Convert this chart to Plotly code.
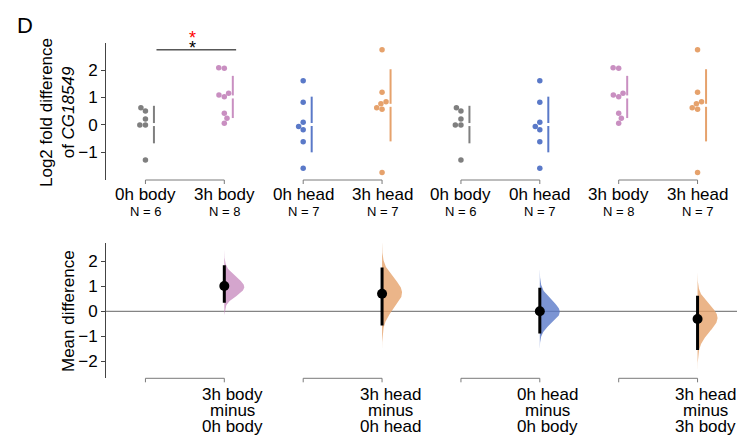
import numpy as np
import plotly.graph_objects as go

# ---------------- data ----------------
body_0h = [0.63, 0.51, 0.22, 0.0, 0.0, -1.28]
body_3h = [2.09, 2.07, 1.16, 1.09, 1.03, 0.43, 0.24, 0.06]
head_0h = [1.61, 0.83, 0.10, -0.06, -0.18, -0.61, -1.58]
head_3h = [2.74, 1.19, 0.85, 0.77, 0.63, 0.57, -1.74]

group_names = ["0h body", "3h body", "0h head", "3h head",
               "0h body", "0h head", "3h body", "3h head"]
group_values = {"0h body": body_0h, "3h body": body_3h,
                "0h head": head_0h, "3h head": head_3h}

# comparisons: (test index, control index) in the top panel
comparisons = [(1, 0), (3, 2), (5, 4), (7, 6)]
ci_low = [0.34, -0.57, -0.88, -1.54]
ci_high = [1.84, 1.75, 0.94, 0.62]

top_yticks = [-1, 0, 1, 2]
bot_yticks = [-2, -1, 0, 1, 2]

# ---------------- styling ----------------
colors = {"0h body": "#7f7f7f", "3h body": "#c98fc1",
          "0h head": "#5a79c8", "3h head": "#e6a26c"}
FONT = "Liberation Sans, Arial, sans-serif"
W, H = 737, 436
ML, MR = 106, 0
plot_w = W - ML - MR
x_range = [-0.5, 7.5]
px_per_x = plot_w / (x_range[1] - x_range[0])

top_dom = [1 - 180 / H, 1 - 43 / H]
top_range = [-2.01, 2.99]
bot_dom = [1 - 378.3 / H, 1 - 243.3 / H]
bot_range = [-2.67, 2.71]
top_h_px = (top_dom[1] - top_dom[0]) * H
bot_h_px = (bot_dom[1] - bot_dom[0]) * H
px_per_y_top = top_h_px / (top_range[1] - top_range[0])


def swarm_offsets(vals, d_px):
    """seaborn-like beeswarm offsets (in x data units)."""
    ys = np.asarray(vals, float) * px_per_y_top
    order = np.argsort(ys)
    placed = []
    offs = np.zeros(len(ys))
    for i in order:
        y = ys[i]
        cands = [0.0]
        for (px, py) in placed:
            dy = abs(py - y)
            if dy < d_px:
                dx = np.sqrt(d_px ** 2 - dy ** 2)
                cands += [px - dx, px + dx]
        cands = sorted(set(np.round(cands, 6)), key=lambda c: (abs(c), c))
        for c in cands:
            ok = all((c - px) ** 2 + (y - py) ** 2 >= d_px ** 2 - 1e-6
                     for (px, py) in placed)
            if ok:
                break
        placed.append((c, y))
        offs[i] = c / px_per_x
    return offs


def boot_mean_dist(vals, h):
    v = np.asarray(vals, float)
    n = len(v)
    idx = np.round(v / n / h).astype(int)
    mn = idx.min()
    span = idx.max() - mn
    cur = np.array([1.0])
    off = 0
    for _ in range(n):
        new = np.zeros(len(cur) + span)
        for k in idx:
            s = k - mn
            new[s:s + len(cur)] += cur / n
        cur = new
        off += mn
    return cur, off


def diff_density(test, control, h=0.002):
    pt, ot = boot_mean_dist(test, h)
    pc, oc = boot_mean_dist(control, h)
    p = np.convolve(pt, pc[::-1])
    off = ot - (oc + len(pc) - 1)
    grid = (off + np.arange(len(p))) * h
    m = np.sum(p * grid)
    sd = np.sqrt(np.sum(p * grid ** 2) - m ** 2)
    bw = sd * 5000 ** (-0.2)
    sig = bw / h
    half = int(np.ceil(4.5 * sig))
    kx = np.arange(-half, half + 1)
    ker = np.exp(-0.5 * (kx / sig) ** 2)
    ker /= ker.sum()
    ps = np.convolve(p, ker)
    grid_s = (off - half + np.arange(len(ps))) * h
    cdf = np.cumsum(ps) / ps.sum()
    lo = np.searchsorted(cdf, 0.0001)
    hi = np.searchsorted(cdf, 0.9999)
    return grid_s[lo:hi + 1], ps[lo:hi + 1]


def hex_rgba(hx, a):
    hx = hx.lstrip("#")
    r, g, b = int(hx[0:2], 16), int(hx[2:4], 16), int(hx[4:6], 16)
    return f"rgba({r},{g},{b},{a})"


fig = go.Figure()

# ---------------- top panel: swarms + mean ± SD ----------------
sd_offset = 8.5 / px_per_x
gap = 3.0 / px_per_y_top
for gi, name in enumerate(group_names):
    vals = np.asarray(group_values[name], float)
    offs = swarm_offsets(vals, 5.6)
    fig.add_trace(go.Scatter(
        x=gi + offs, y=vals, mode="markers", xaxis="x", yaxis="y",
        marker=dict(size=5.5, color=colors[name], line=dict(width=0)),
        showlegend=False, hoverinfo="skip"))
    m = vals.mean()
    s = vals.std(ddof=1)
    xl = gi + sd_offset
    fig.add_trace(go.Scatter(
        x=[xl, xl, None, xl, xl],
        y=[m - s, m - gap / 2, None, m + gap / 2, m + s],
        mode="lines", xaxis="x", yaxis="y",
        line=dict(color=colors[name], width=2),
        showlegend=False, hoverinfo="skip"))

# ---------------- bottom panel: effect sizes ----------------
violin_w = 20.0 / px_per_x
for k, (ti, ci) in enumerate(comparisons):
    tname, cname = group_names[ti], group_names[ci]
    test = np.asarray(group_values[tname], float)
    ctrl = np.asarray(group_values[cname], float)
    grid, dens = diff_density(test, ctrl)
    step = 4
    g = grid[::step]
    dd = dens[::step] / dens.max()
    xs = np.concatenate([[ti], ti + dd * violin_w, [ti]])
    ys = np.concatenate([[g[0]], g, [g[-1]]])
    fig.add_trace(go.Scatter(
        x=xs, y=ys, mode="lines", fill="toself", xaxis="x2", yaxis="y2",
        fillcolor=hex_rgba(colors[tname], 0.8), line=dict(width=0),
        showlegend=False, hoverinfo="skip"))
    md = test.mean() - ctrl.mean()
    fig.add_trace(go.Scatter(
        x=[ti, ti], y=[ci_low[k], ci_high[k]], mode="lines",
        xaxis="x2", yaxis="y2", line=dict(color="black", width=3),
        showlegend=False, hoverinfo="skip"))
    fig.add_trace(go.Scatter(
        x=[ti], y=[md], mode="markers", xaxis="x2", yaxis="y2",
        marker=dict(size=10, color="black"),
        showlegend=False, hoverinfo="skip"))

shapes = []
annotations = []
bracket_col = "#7a7a7a"
for (a, b) in [(0, 1), (2, 3), (4, 5), (6, 7)]:
    for xr, yr, hpx in [("x", "y domain", top_h_px), ("x2", "y2 domain", bot_h_px)]:
        shapes.append(dict(type="line", xref=xr, yref=yr, x0=a, x1=b, y0=0, y1=0,
                           line=dict(color=bracket_col, width=1)))
        for xx in (a, b):
            shapes.append(dict(type="line", xref=xr, yref=yr, x0=xx, x1=xx,
                               y0=0, y1=-4 / hpx,
                               line=dict(color=bracket_col, width=1)))

shapes.append(dict(type="line", xref="paper", yref="y2", x0=0, x1=1, y0=0, y1=0,
                   line=dict(color="#666666", width=1), layer="below"))

# significance bar and stars
shapes.append(dict(type="line", xref="x", yref="y", x0=0.14, x1=1.15, y0=2.74, y1=2.74,
                   line=dict(color="black", width=1)))
annotations.append(dict(text="*", x=0.6, y=1 - 48 / H, xref="x", yref="paper",
                        showarrow=False, font=dict(size=18, color="black", family=FONT),
                        yanchor="middle", xanchor="center"))
annotations.append(dict(text="*", x=0.6, y=1 - 38 / H, xref="x", yref="paper",
                        showarrow=False, font=dict(size=18, color="red", family=FONT),
                        yanchor="middle", xanchor="center"))

for gi, name in enumerate(group_names):
    annotations.append(dict(text=name, x=gi, y=1 - 194 / H, xref="x", yref="paper",
                            showarrow=False, xanchor="center", yanchor="middle",
                            font=dict(size=17, color="black", family=FONT)))
    annotations.append(dict(text=f"N = {len(group_values[name])}", x=gi, y=1 - 211 / H,
                            xref="x", yref="paper", showarrow=False,
                            xanchor="center", yanchor="middle",
                            font=dict(size=13, color="black", family=FONT)))

lbl_off = 8.0 / px_per_x
for (ti, ci) in comparisons:
    lines = [group_names[ti], "minus", group_names[ci]]
    for li, t in enumerate(lines):
        annotations.append(dict(text=t, x=ti + lbl_off, y=1 - (394 + 16 * li) / H,
                                xref="x2", yref="paper", showarrow=False,
                                xanchor="center", yanchor="middle",
                                font=dict(size=17, color="black", family=FONT)))

annotations.append(dict(text="Log2 fold difference<br>of <i>CG18549</i>",
                        x=(58 - ML) / plot_w, y=1 - 113 / H, xref="paper", yref="paper",
                        textangle=-90, showarrow=False, xanchor="center", yanchor="middle",
                        font=dict(size=17, color="black", family=FONT)))
annotations.append(dict(text="Mean difference",
                        x=(68 - ML) / plot_w, y=1 - 311 / H, xref="paper", yref="paper",
                        textangle=-90, showarrow=False, xanchor="center", yanchor="middle",
                        font=dict(size=17, color="black", family=FONT)))
annotations.append(dict(text="D", x=(25 - ML) / plot_w, y=1 - 26 / H,
                        xref="paper", yref="paper", showarrow=False,
                        xanchor="center", yanchor="middle",
                        font=dict(size=22, color="black", family=FONT)))

axis_col = "#444444"
yax_common = dict(showline=True, linecolor=axis_col, linewidth=1, ticks="outside",
                  ticklen=4, tickwidth=1, tickcolor=axis_col, showgrid=False,
                  zeroline=False, tickfont=dict(size=17, color="black", family=FONT))
xax_common = dict(range=x_range, visible=False, showgrid=False, zeroline=False)

fig.update_layout(
    width=W, height=H,
    margin=dict(l=ML, r=MR, t=0, b=0),
    paper_bgcolor="white", plot_bgcolor="white",
    font=dict(family=FONT, color="black"),
    showlegend=False,
    xaxis=dict(domain=[0, 1], anchor="y", **xax_common),
    xaxis2=dict(domain=[0, 1], anchor="y2", **xax_common),
    yaxis=dict(domain=top_dom, range=top_range, anchor="x", tickvals=top_yticks,
               **yax_common),
    yaxis2=dict(domain=bot_dom, range=bot_range, anchor="x2", tickvals=bot_yticks,
                **yax_common),
    shapes=shapes, annotations=annotations,
)

fig.write_html("out.html",
               config={"displayModeBar": False, "staticPlot": True},
               post_script="document.body.style.margin='0';document.body.style.padding='0';")
